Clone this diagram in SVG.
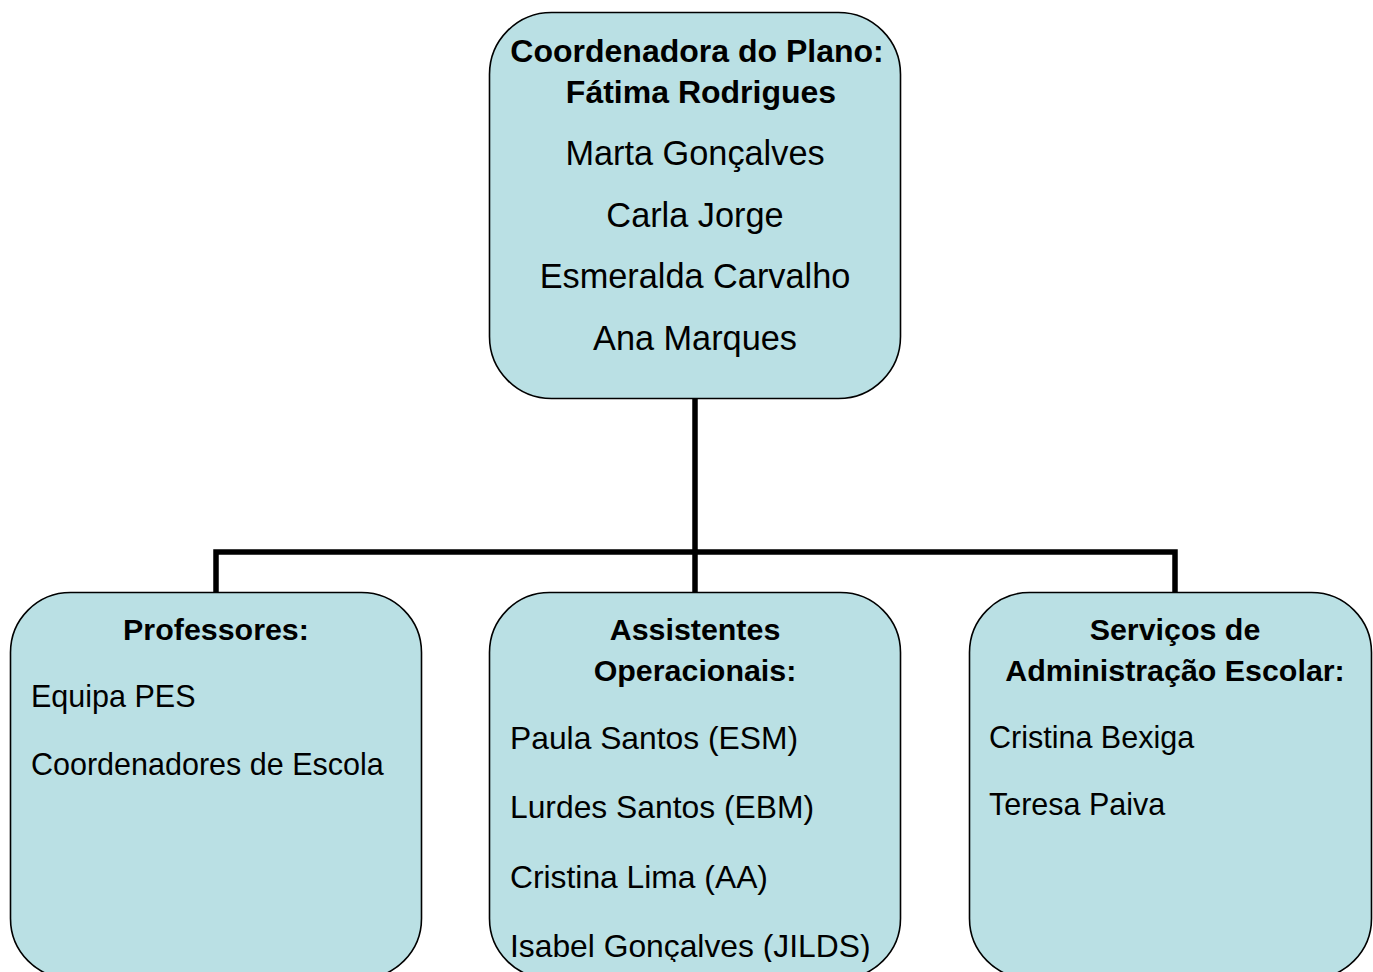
<svg xmlns="http://www.w3.org/2000/svg" width="1373" height="972" viewBox="0 0 1373 972">
<style>
.box{fill:#bae0e4;stroke:#000;stroke-width:1.6}
.conn{fill:none;stroke:#000;stroke-width:5.5;stroke-linejoin:miter;stroke-linecap:butt}
text{font-family:"Liberation Sans",Arial,sans-serif;fill:#000}
.tb{font-weight:bold;font-size:32px;text-anchor:middle}
.tr{font-size:34.3px;text-anchor:middle}
.bb{font-weight:bold;font-size:30.4px;text-anchor:middle}
.br{font-size:30.5px}
.mr{font-size:31.8px}
</style>
<defs>
<clipPath id="clipMid"><rect x="489" y="592" width="412" height="370"/></clipPath>
</defs>
<rect width="1373" height="972" fill="#fff"/>
<g id="connectors">
<path class="conn" d="M695,398 V592"/>
<path class="conn" d="M216,592 V552 H1175 V592"/>
</g>
<g id="top">
<rect class="box" x="489.5" y="12.5" width="411" height="386" rx="62" ry="62"/>
<text class="tb" x="697" y="62">Coordenadora do Plano:</text>
<text class="tb" x="701" y="103">Fátima Rodrigues</text>
<text class="tr" x="695" y="165">Marta Gonçalves</text>
<text class="tr" x="695" y="227">Carla Jorge</text>
<text class="tr" x="695" y="288">Esmeralda Carvalho</text>
<text class="tr" x="695" y="350">Ana Marques</text>
</g>
<g id="professores">
<rect class="box" x="10.5" y="592.5" width="411" height="386" rx="60" ry="60"/>
<text class="bb" x="216" y="640">Professores:</text>
<text class="br" x="31" y="707">Equipa PES</text>
<text class="br" x="31" y="775">Coordenadores de Escola</text>
</g>
<g id="assistentes">
<rect class="box" x="489.5" y="592.5" width="411" height="386" rx="60" ry="60"/>
<text class="bb" x="695" y="640">Assistentes</text>
<text class="bb" x="695" y="681">Operacionais:</text>
<g clip-path="url(#clipMid)">
<text class="mr" x="510" y="749">Paula Santos (ESM)</text>
<text class="mr" x="510" y="818">Lurdes Santos (EBM)</text>
<text class="mr" x="510" y="888">Cristina Lima (AA)</text>
<text class="mr" x="510" y="957">Isabel Gonçalves (JILDS)</text>
</g>
</g>
<g id="servicos">
<rect class="box" x="969.5" y="592.5" width="402" height="386" rx="60" ry="60"/>
<text class="bb" x="1175" y="640">Serviços de</text>
<text class="bb" x="1175" y="681">Administração Escolar:</text>
<text class="br" x="989" y="748">Cristina Bexiga</text>
<text class="br" x="989" y="815">Teresa Paiva</text>
</g>
</svg>
